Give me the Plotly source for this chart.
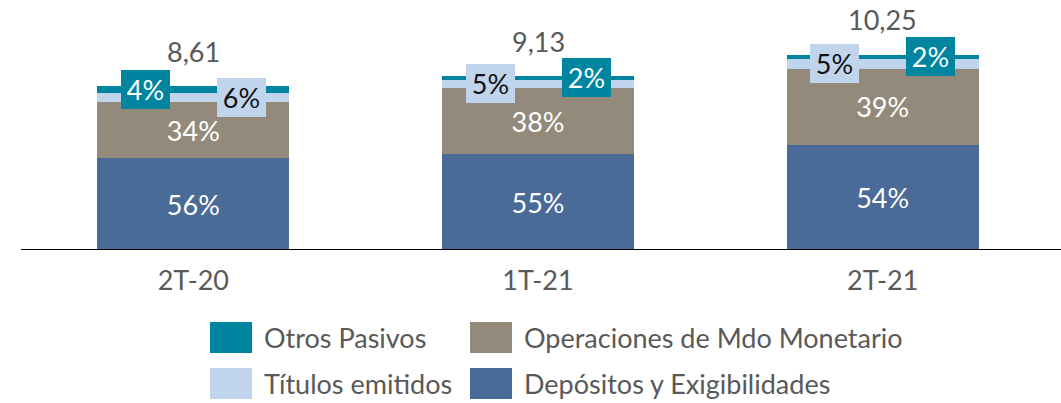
import plotly.graph_objects as go

# Quarterly liabilities structure (totals in billions, shares in %)
periods = ["2T-20", "1T-21", "2T-21"]
totals = [8.61, 9.13, 10.25]

series_names = [
    "Depósitos y Exigibilidades",
    "Operaciones de Mdo Monetario",
    "Títulos emitidos",
    "Otros Pasivos",
]
depositos_pct = [56, 55, 54]
mdo_monetario_pct = [34, 38, 39]
titulos_pct = [6, 5, 5]
otros_pct = [4, 2, 2]

# Styling
COLORS = {
    "Depósitos y Exigibilidades": "#4A6A98",
    "Operaciones de Mdo Monetario": "#948A7B",
    "Títulos emitidos": "#C0D4EC",
    "Otros Pasivos": "#0085A1",
}
FONT = "Lato"
FS = 27
GRAY = "#595959"

W, H = 1061, 403
ML, MR, MT, MB = 21, 6, 0, 153
PW, PH = W - ML - MR, H - MT - MB

# which side of the bar each small-share callout sits on (-1 left, +1 right)
otros_side = [-1, 1, 1]
CALLOUT_DX = 48

shares = [depositos_pct, mdo_monetario_pct, titulos_pct, otros_pct]

fig = go.Figure()
for name, pct in zip(series_names, shares):
    vals = [t * p / 100 for t, p in zip(totals, pct)]
    inside = name in ("Depósitos y Exigibilidades", "Operaciones de Mdo Monetario")
    fig.add_trace(go.Bar(
        x=periods,
        y=vals,
        name=name,
        marker=dict(color=COLORS[name], line=dict(width=0)),
        text=[f"{p}%" for p in pct] if inside else None,
        textposition="inside" if inside else "none",
        insidetextanchor="middle",
        textangle=0,
        textfont=dict(family=FONT, size=FS, color="white"),
        hoverinfo="skip",
        showlegend=False,
    ))

annotations = []

# totals above each bar
for x, t in zip(periods, totals):
    annotations.append(dict(
        x=x, y=t, xref="x", yref="y",
        text=f"{t:.2f}".replace(".", ","),
        showarrow=False, yanchor="middle", yshift=35,
        font=dict(family=FONT, size=FS, color=GRAY),
    ))

# boxed callouts for the thin top segments
for i, x in enumerate(periods):
    t = totals[i]
    base = t * (depositos_pct[i] + mdo_monetario_pct[i]) / 100
    tit = t * titulos_pct[i] / 100
    otr = t * otros_pct[i] / 100
    side = otros_side[i]
    annotations.append(dict(
        x=x, y=base + tit / 2, xref="x", yref="y",
        xshift=-side * CALLOUT_DX,
        text=f"{titulos_pct[i]}%", showarrow=False,
        bgcolor=COLORS["Títulos emitidos"], borderpad=2, borderwidth=0,
        width=45, height=35, align="center", valign="middle",
        font=dict(family=FONT, size=FS, color="#111111"),
    ))
    annotations.append(dict(
        x=x, y=base + tit + otr / 2, xref="x", yref="y",
        xshift=side * CALLOUT_DX,
        text=f"{otros_pct[i]}%", showarrow=False,
        bgcolor=COLORS["Otros Pasivos"], borderpad=2, borderwidth=0,
        width=45, height=35, align="center", valign="middle",
        font=dict(family=FONT, size=FS, color="white"),
    ))

shapes = []

# baseline across the full width
shapes.append(dict(
    type="line", xref="paper", yref="y",
    x0=0, x1=(W - ML) / PW, y0=0, y1=0,
    line=dict(color="black", width=2),
))

# legend drawn as swatches + labels (2 x 2 grid)
def px_to_paper_x(px):
    return (px - ML) / PW


def px_to_paper_y(py):
    return (MT + PH - py) / PH


legend_order = [
    ("Otros Pasivos", 210, 322),
    ("Operaciones de Mdo Monetario", 470, 322),
    ("Títulos emitidos", 210, 368),
    ("Depósitos y Exigibilidades", 470, 368),
]
SW_W, SW_H = 42, 31
for name, lx, ly in legend_order:
    shapes.append(dict(
        type="rect", xref="paper", yref="paper",
        x0=px_to_paper_x(lx), x1=px_to_paper_x(lx + SW_W),
        y0=px_to_paper_y(ly + SW_H), y1=px_to_paper_y(ly),
        fillcolor=COLORS[name], line=dict(width=0),
    ))
    annotations.append(dict(
        x=px_to_paper_x(lx + SW_W + 10), y=px_to_paper_y(ly + SW_H / 2),
        xref="paper", yref="paper", xanchor="left", yanchor="middle",
        text=name, showarrow=False,
        font=dict(family=FONT, size=FS, color=GRAY),
    ))

fig.update_layout(
    width=W, height=H,
    margin=dict(l=ML, r=MR, t=MT, b=MB),
    paper_bgcolor="white", plot_bgcolor="white",
    barmode="stack", bargap=0.443,
    showlegend=False,
    annotations=annotations,
    shapes=shapes,
    xaxis=dict(
        type="category", showgrid=False, zeroline=False, showline=False,
        ticks="", ticklabelstandoff=12,
        tickfont=dict(family=FONT, size=FS, color=GRAY),
    ),
    yaxis=dict(
        range=[0, PH / 19.04], visible=False, showgrid=False, zeroline=False,
    ),
    uniformtext=dict(minsize=FS, mode="show"),
)

fig.write_html("out.html")
